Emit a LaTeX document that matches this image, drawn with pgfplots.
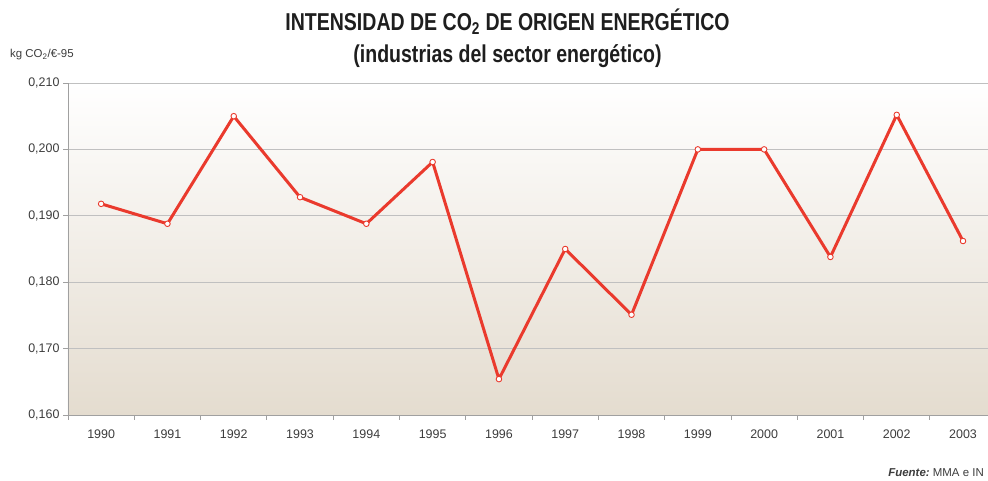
\documentclass[border=0pt]{standalone}
\usepackage{pgfplots}
\pgfplotsset{compat=1.18}
\usepackage{pgfplotstable}
\usepackage{fontspec}
\setmainfont{Liberation Sans}
\newfontfamily\titlefont[FakeStretch=0.8]{Liberation Sans}
\definecolor{linered}{RGB}{234,58,45}
\definecolor{gridgray}{RGB}{192,192,192}
\definecolor{spinegray}{RGB}{160,160,160}
\definecolor{labgray}{RGB}{60,60,60}
\definecolor{bgbot}{RGB}{228,220,207}
\definecolor{titlecol}{RGB}{30,30,30}

\pgfplotstableread{
x y
0 0.1918
1 0.1888
2 0.2050
3 0.1928
4 0.1888
5 0.1981
6 0.1654
7 0.1850
8 0.1751
9 0.2000
10 0.2000
11 0.1838
12 0.2052
13 0.1862
}\datatable

\begin{document}
\begin{tikzpicture}[x=1bp,y=1bp]
\path[use as bounding box] (-68,-66) rectangle (920,415);
\begin{axis}[
  at={(0,0)}, anchor=south west,
  scale only axis, width=920bp, height=332bp,
  xmin=-0.5, xmax=13.377, ymin=0.160, ymax=0.210,
  axis x line*=bottom, axis y line*=left,
  axis line style={draw=spinegray, line width=0.9pt, -},
  axis background/.style={shade, top color=white, bottom color=bgbot},
  xtick={0,...,13},
  xticklabels={1990,1991,1992,1993,1994,1995,1996,1997,1998,1999,2000,2001,2002,2003},
  major x tick style={draw=none},
  extra x ticks={-0.5,0.5,1.5,2.5,3.5,4.5,5.5,6.5,7.5,8.5,9.5,10.5,11.5,12.5},
  extra x tick labels={},
  extra x tick style={major x tick style={draw=spinegray, line width=0.9pt}},
  ytick={0.16,0.17,0.18,0.19,0.20,0.21},
  major y tick style={draw=spinegray, line width=0.9pt},
  tick align=outside, major tick length=5bp,
  ymajorgrids, grid style={draw=gridgray, line width=0.9pt},
  tick label style={font=\fontsize{12.5}{15}\selectfont, text=labgray},
  xticklabel style={yshift=-6bp},
  yticklabel style={/pgf/number format/.cd, fixed, fixed zerofill, precision=3, use comma, assume math mode=true},
  clip=false,
]
\addplot[color=linered, line width=3bp, line join=round, mark=*, mark size=2.8bp,
  mark options={fill=white, draw=linered, line width=0.9pt}] table[x=x, y=y] {\datatable};
\end{axis}
\node[font=\titlefont\bfseries\fontsize{24.5}{28}\selectfont, text=titlecol] at (439.5,393) {INTENSIDAD DE CO\textsubscript{2} DE ORIGEN ENERGÉTICO};
\node[font=\titlefont\bfseries\fontsize{24.5}{28}\selectfont, text=titlecol] at (439.5,359) {(industrias del sector energético)};
\node[anchor=west, font=\fontsize{11.5}{13}\selectfont, text=labgray, inner sep=0pt] at (-58,360) {kg CO\textsubscript{2}/€-95};
\node[anchor=base east, font=\fontsize{11.5}{13}\selectfont, text=labgray, inner sep=0pt] at (916,-62) {\textbf{\textit{Fuente:}}~MMA e IN};
\end{tikzpicture}
\end{document}
